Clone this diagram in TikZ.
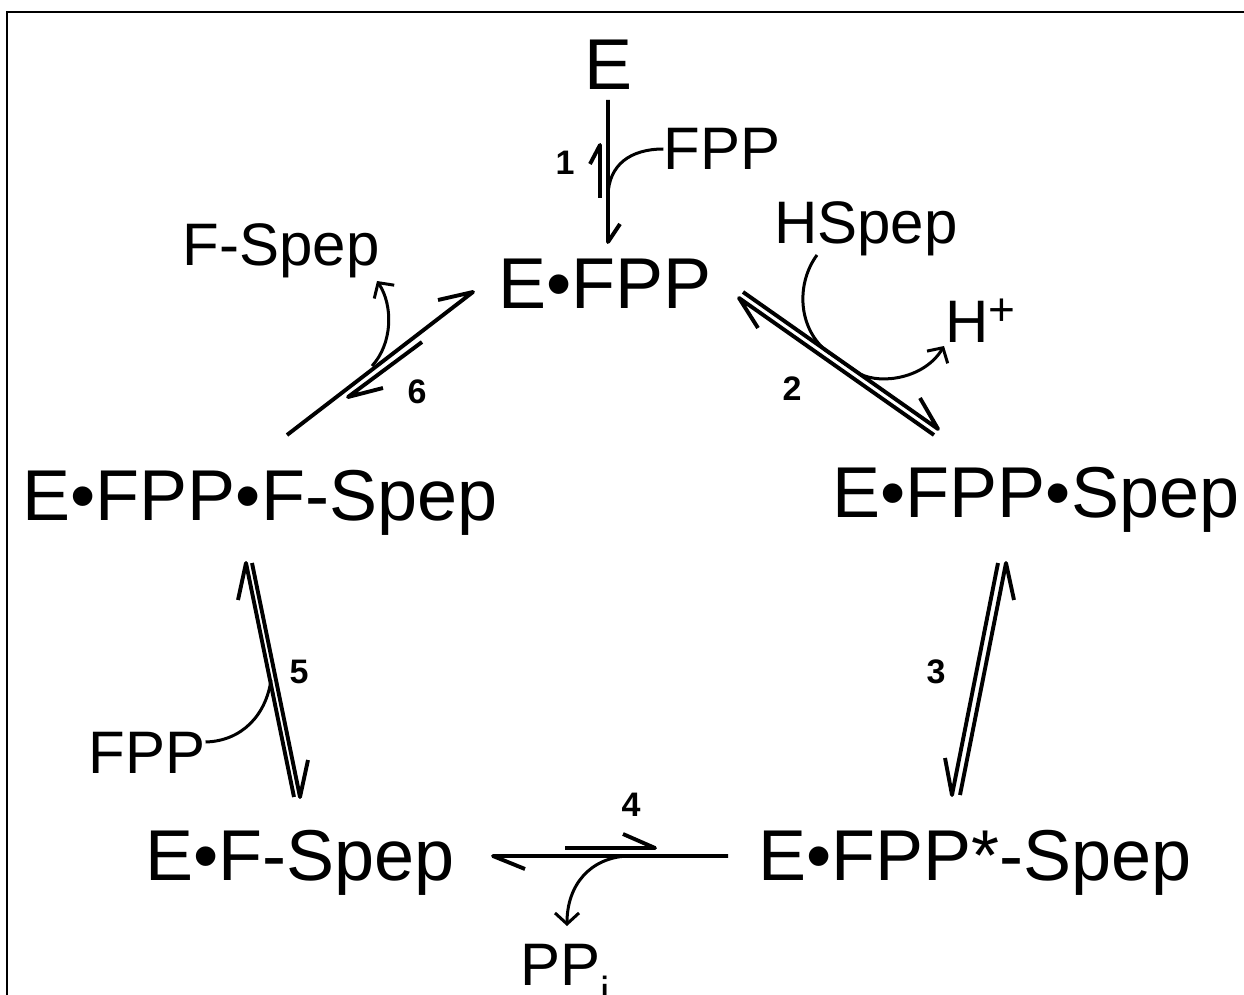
\documentclass[tikz,border=0pt]{standalone}
\usepackage{fontspec}
\setmainfont{Liberation Sans}
\usetikzlibrary{arrows.meta}
\begin{document}
\begin{tikzpicture}[x=1pt,y=-1pt,
  big/.style={inner sep=0pt,anchor=base,font=\fontsize{72}{80}\selectfont},
  mid/.style={inner sep=0pt,anchor=base,font=\fontsize{60}{66}\selectfont},
  num/.style={inner sep=0pt,anchor=center,font=\fontsize{34}{38}\selectfont\bfseries},
  eqline/.style={line width=3.9pt,line cap=butt,line join=round},
  curvearrow/.style={line width=3pt,-{Straight Barb[length=11pt,width=24pt]}},
  curveline/.style={line width=3pt}]
\useasboundingbox (0,0) rectangle (1244,995);
% frame
\draw[line width=2pt] (7,1010) -- (7,12) -- (1260,12);
% species
\node[big] (E) at (609,90) {E};
\node[big] (EF) at (605,308) {E•FPP};
\node[big] (EFS) at (1036,517) {E•FPP•Spep};
\node[big] (EFSs) at (975,880) {E•FPP*-Spep};
\node[big] (EFs) at (300,880) {E•F-Spep};
\node[big] (EFFS) at (260,520) {E•FPP•F-Spep};
\node[mid] (fppA) at (722,170) {FPP};
\node[mid] (hspep) at (866,243) {HSpep};
\node[mid,anchor=base west] (hplus) at (945,342) {H{\fontsize{46}{46}\selectfont\raisebox{17pt}{+}}};
\node[mid] (fspep) at (281,265) {F-Spep};
\node[mid] (fppB) at (147,773) {FPP};
\node[mid,anchor=base west] (ppi) at (520,985) {PP\textsubscript{i}};
% step numbers
\node[num] (n1) at (565,163) {1};
\node[num] (n2) at (792,389) {2};
\node[num] (n3) at (936,672) {3};
\node[num] (n4) at (631,805) {4};
\node[num] (n5) at (299,672) {5};
\node[num] (n6) at (417,392) {6};
% ---- step 1
\coordinate (a1t) at (608,100); \coordinate (a1h) at (608,242); \coordinate (a1b) at (620,224);
\coordinate (r1t) at (600,198); \coordinate (r1h) at (600,145); \coordinate (r1b) at (590,164);
\draw[eqline] (a1t) -- (a1h) -- (a1b);
\draw[eqline] (r1t) -- (r1h) -- (r1b);
\coordinate (c1) at (608,195);
\draw[curveline] (fppA.west |- 0,149) .. controls (630,149) and (609,165) .. (c1);
% ---- step 2
\coordinate (a2t) at (743,292); \coordinate (a2h) at (938,429); \coordinate (a2b) at (920,398);
\coordinate (r2t) at (934,435); \coordinate (r2h) at (739,298); \coordinate (r2b) at (758,328);
\draw[eqline] (a2t) -- (a2h) -- (a2b);
\draw[eqline] (r2t) -- (r2h) -- (r2b);
\coordinate (h2a) at (817,255); \coordinate (h2b) at (825,350); \coordinate (h2c) at (860,374); \coordinate (h2d) at (944,346);
\draw[curvearrow] (h2a) .. controls (797,282) and (797,325) .. (h2b) -- (h2c) .. controls (882,385) and (925,378) .. (h2d);
% ---- step 3
\coordinate (a3t) at (998,563); \coordinate (a3h) at (952,795); \coordinate (a3b) at (945,758);
\coordinate (r3t) at (960,795); \coordinate (r3h) at (1006,563); \coordinate (r3b) at (1014,600);
\draw[eqline] (a3t) -- (a3h) -- (a3b);
\draw[eqline] (r3t) -- (r3h) -- (r3b);
% ---- step 4
\coordinate (a4t) at (728,856); \coordinate (a4h) at (493,856); \coordinate (a4b) at (525,869);
\coordinate (r4t) at (565,848); \coordinate (r4h) at (655,848); \coordinate (r4b) at (623,834);
\draw[eqline] (a4t) -- (a4h) -- (a4b);
\draw[eqline] (r4t) -- (r4h) -- (r4b);
\coordinate (p4a) at (627,856); \coordinate (p4b) at (567,926);
\draw[curvearrow] (p4a) .. controls (590,858) and (567,885) .. (p4b);
% ---- step 5
\coordinate (a5t) at (252,563); \coordinate (a5h) at (300,797); \coordinate (a5b) at (308,760);
\coordinate (r5t) at (294,797); \coordinate (r5h) at (246,563); \coordinate (r5b) at (238,600);
\draw[eqline] (a5t) -- (a5h) -- (a5b);
\draw[eqline] (r5t) -- (r5h) -- (r5b);
\coordinate (c5) at (271,680);
\draw[curveline] (fppB.east |- 0,742) .. controls (242,741) and (266,715) .. (c5);
% ---- step 6
\coordinate (a6t) at (287,435); \coordinate (a6h) at (473,292); \coordinate (a6b) at (438,300);
\coordinate (r6t) at (422,342); \coordinate (r6h) at (348,397); \coordinate (r6b) at (383,388);
\draw[eqline] (a6t) -- (a6h) -- (a6b);
\draw[eqline] (r6t) -- (r6h) -- (r6b);
\coordinate (f6a) at (372,366); \coordinate (f6b) at (377,281);
\draw[curvearrow] (f6a) .. controls (393,343) and (393,305) .. (f6b);
\end{tikzpicture}
\end{document}
